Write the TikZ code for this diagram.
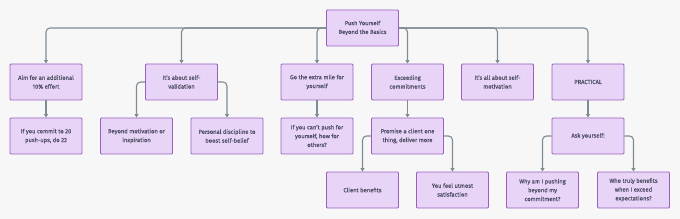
\documentclass[tikz,border=0pt]{standalone}
\usepackage{fontspec}
\setmainfont{Fira Sans}[RawFeature={embolden=0.5}]
\usetikzlibrary{arrows.meta}
\definecolor{bg}{HTML}{F7F7F8}
\definecolor{boxfill}{HTML}{E8D4F6}
\definecolor{boxdraw}{HTML}{9B5FC0}
\definecolor{txt}{HTML}{505066}
\definecolor{edge}{HTML}{7F8C95}
\tikzset{
  box/.style={draw=boxdraw, fill=boxfill, line width=0.9pt, rounded corners=1pt,
    minimum width=72pt, minimum height=36pt, inner sep=1pt, align=center,
    font=\fontsize{5.8}{8.8}\selectfont, text=txt},
  conn/.style={draw=edge, line width=1.1pt, rounded corners=4pt,
    -{Triangle[length=3.5pt,width=4pt]}},
}
\begin{document}
\begin{tikzpicture}[x=1pt,y=-1pt]
\fill[bg] (0,0) rectangle (680,219);
\useasboundingbox (0,0) rectangle (680,219);
\node[box] (root) at (362.5,28) {Push Yourself\\Beyond the Basics};
\node[box] (a) at (46,82) {Aim for an additional\\10\% effort};
\node[box] (b) at (181.5,82) {It's about self-\\validation};
\node[box] (c) at (317,82) {Go the extra mile for\\yourself};
\node[box] (d) at (407.5,82) {Exceeding\\commitments};
\node[box] (e) at (497.5,82) {It's all about self-\\motivation};
\node[box] (f) at (588,82) {PRACTICAL};
\node[box] (a1) at (46,136) {If you commit to 20\\push-ups, do 22};
\node[box] (b1) at (136.5,136) {Beyond motivation or\\inspiration};
\node[box] (b2) at (227,136) {Personal discipline to\\boost self-belief};
\node[box] (c1) at (317,136) {If you can't push for\\yourself, how for\\others?};
\node[box] (d1) at (407.5,136) {Promise a client one\\thing, deliver more};
\node[box] (f1) at (588,136) {Ask yourself:};
\node[box] (d11) at (362.5,190) {Client benefits};
\node[box] (d12) at (452.5,190) {You feel utmost\\satisfaction};
\node[box] (f11) at (542.5,190) {Why am I pushing\\beyond my\\commitment?};
\node[box] (f12) at (633.5,190) {Who truly benefits\\when I exceed\\expectations?};
\foreach \n in {a,b,c} \draw[conn] (root.west) -| (\n.north);
\foreach \n in {d,e,f} \draw[conn] (root.east) -| (\n.north);
\draw[conn] (a) -- (a1);
\draw[conn] (c) -- (c1);
\draw[conn] (d) -- (d1);
\draw[conn] (f) -- (f1);
\draw[conn] (b.west) -| (b1.north);
\draw[conn] (b.east) -| (b2.north);
\draw[conn] (d1.west) -| (d11.north);
\draw[conn] (d1.east) -| (d12.north);
\draw[conn] (f1.west) -| (f11.north);
\draw[conn] (f1.east) -| (f12.north);
\end{tikzpicture}
\end{document}
